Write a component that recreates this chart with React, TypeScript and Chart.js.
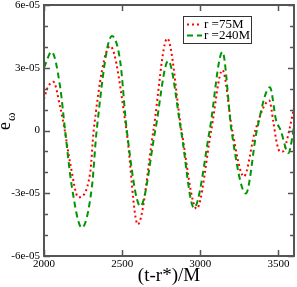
import React, { useEffect, useRef } from "react";
import { Chart, registerables } from "chart.js";

Chart.register(...registerables);

// ---- data ----
const r75X = [2000, 2020, 2060, 2103, 2133, 2167, 2220, 2296, 2318, 2424, 2528, 2600, 2700, 2789, 2880, 2977, 3070, 3142, 3205, 3279, 3352, 3442, 3468, 3490, 3510, 3530, 3550, 3575, 3600];
const r75Y = [1.5e-5, 2.0e-5, 2.33e-5, 1.14e-5, 0, -1.54e-5, -3.19e-5, -2.0e-5, 0, 4.03e-5, 0, -4.49e-5, 0, 4.4e-5, 0, -3.74e-5, 0, 2.89e-5, 0, -2.2e-5, 0, 1.43e-5, 0.4e-5, -0.6e-5, -1.0e-5, -1.0e-5, -0.6e-5, 0.2e-5, 1.1e-5];

const r240X = [2000, 2049, 2103, 2135, 2178, 2242, 2307, 2337, 2435, 2488, 2530, 2617, 2712, 2795, 2877, 2960, 3060, 3142, 3200, 3292, 3362, 3446, 3485, 3515, 3564, 3590, 3600];
const r240Y = [3.0e-5, 3.76e-5, 2.1e-5, 0, -2.67e-5, -4.65e-5, -2.67e-5, 0, 4.52e-5, 3.29e-5, 0, -3.62e-5, 0, 3.33e-5, 0, -3.7e-5, 0, 3.76e-5, 0, -3.01e-5, 0, 2.07e-5, 0.5e-5, 0, -1.08e-5, -0.3e-5, 0.2e-5];

const seriesNames = ["r =75M", "r =240M"];
const xTicks = [2000, 2500, 3000, 3500];
const xTickLabels = ["2000", "2500", "3000", "3500"];
const yTicks = [-6e-5, -3e-5, 0, 3e-5, 6e-5];
const yTickLabels = ["-6e-05", "-3e-05", "0", "3e-05", "6e-05"];
const yMinorTicks = [-5e-5, -4e-5, -2e-5, -1e-5, 1e-5, 2e-5, 4e-5, 5e-5];
const xTitle = "(t-r*)/M";
const yTitleMain = "e";
const yTitleSub = "ω";

const RED = "rgb(255,0,0)";
const GREEN = "rgb(0,150,0)";
const FRAME = "#555555";
const FONT = "'Liberation Serif', 'Times New Roman', serif";

const framePlugin = {
  id: "framePlugin",
  afterDatasetsDraw(chart: any) {
    const { ctx, chartArea: a, scales } = chart;
    const xs = scales.x;
    const ys = scales.y;
    ctx.save();
    ctx.strokeStyle = FRAME;
    ctx.lineWidth = 2;
    ctx.strokeRect(a.left, a.top, a.right - a.left, a.bottom - a.top);
    ctx.lineWidth = 1.5;
    ctx.beginPath();
    xTicks.forEach((v) => {
      const px = Math.round(xs.getPixelForValue(v)) + 0.5;
      ctx.moveTo(px, a.bottom);
      ctx.lineTo(px, a.bottom - 6);
      ctx.moveTo(px, a.top);
      ctx.lineTo(px, a.top + 6);
    });
    yTicks.forEach((v) => {
      const py = Math.round(ys.getPixelForValue(v)) + 0.5;
      ctx.moveTo(a.left, py);
      ctx.lineTo(a.left + 6, py);
      ctx.moveTo(a.right, py);
      ctx.lineTo(a.right - 6, py);
    });
    yMinorTicks.forEach((v) => {
      const py = Math.round(ys.getPixelForValue(v)) + 0.5;
      ctx.moveTo(a.left, py);
      ctx.lineTo(a.left + 4, py);
      ctx.moveTo(a.right, py);
      ctx.lineTo(a.right - 4, py);
    });
    ctx.stroke();

    // legend box
    const bx = 183, by = 16, bw = 68, bh = 27;
    ctx.fillStyle = "#ffffff";
    ctx.fillRect(bx, by, bw, bh);
    ctx.strokeStyle = "#333333";
    ctx.lineWidth = 1;
    ctx.strokeRect(bx + 0.5, by + 0.5, bw, bh);
    const rows = [
      { y: 24.5, color: RED, dash: [2, 3], label: seriesNames[0] },
      { y: 35.5, color: GREEN, dash: [6, 4], label: seriesNames[1] },
    ];
    rows.forEach((r) => {
      ctx.strokeStyle = r.color;
      ctx.lineWidth = 2;
      ctx.setLineDash(r.dash);
      ctx.beginPath();
      ctx.moveTo(187, r.y);
      ctx.lineTo(202, r.y);
      ctx.stroke();
      ctx.setLineDash([]);
      ctx.fillStyle = "#000";
      ctx.font = `13px ${FONT}`;
      ctx.textBaseline = "middle";
      ctx.textAlign = "left";
      ctx.fillText(r.label, 204, r.y);
    });

    // y title e_ω
    ctx.translate(9.5, 130);
    ctx.rotate(-Math.PI / 2);
    ctx.fillStyle = "#000";
    ctx.textBaseline = "alphabetic";
    ctx.font = `18px ${FONT}`;
    ctx.fillText(yTitleMain, 0, 0);
    const w = ctx.measureText(yTitleMain).width;
    ctx.font = `13px ${FONT}`;
    ctx.fillText(yTitleSub, w + 1, 5);
    ctx.restore();
  },
};

export default function App() {
  const ref = useRef<HTMLCanvasElement>(null);
  useEffect(() => {
    const canvas = ref.current!;
    const chart = new Chart(canvas, {
      type: "line",
      data: {
        datasets: [
          {
            label: seriesNames[0],
            data: r75X.map((x, i) => ({ x, y: r75Y[i] })),
            borderColor: RED,
            borderWidth: 2,
            borderDash: [2, 3],
            pointRadius: 0,
            cubicInterpolationMode: "monotone",
            fill: false,
            order: 1,
          },
          {
            label: seriesNames[1],
            data: r240X.map((x, i) => ({ x, y: r240Y[i] })),
            borderColor: GREEN,
            borderWidth: 2,
            borderDash: [6, 4],
            pointRadius: 0,
            cubicInterpolationMode: "monotone",
            fill: false,
            order: 0,
          },
        ],
      },
      options: {
        animation: false,
        responsive: false,
        devicePixelRatio: 1,
        layout: { padding: { top: 5, right: 3, left: 0, bottom: 0 } },
        plugins: { legend: { display: false }, tooltip: { enabled: false } },
        scales: {
          x: {
            type: "linear",
            min: 2000,
            max: 3600,
            grid: { display: false, drawTicks: false },
            border: { display: false },
            afterBuildTicks: (s: any) => {
              s.ticks = xTicks.map((v) => ({ value: v }));
            },
            afterFit: (s: any) => {
              s.height = 31;
              s.paddingLeft = 0;
              s.paddingRight = 0;
            },
            ticks: {
              maxRotation: 0,
              autoSkip: false,
              padding: 2,
              color: "#000",
              font: { family: FONT, size: 11 },
              callback: (v: any) => xTickLabels[xTicks.indexOf(Number(v))] ?? "",
            },
            title: {
              display: true,
              text: xTitle,
              color: "#000",
              font: { family: FONT, size: 19 },
              padding: { top: 0, bottom: 0 },
            },
          },
          y: {
            type: "linear",
            min: -6e-5,
            max: 6e-5,
            grid: { display: false, drawTicks: false },
            border: { display: false },
            afterBuildTicks: (s: any) => {
              s.ticks = yTicks.map((v) => ({ value: v }));
            },
            afterFit: (s: any) => {
              s.width = 44;
              s.paddingTop = 0;
              s.paddingBottom = 0;
            },
            ticks: {
              autoSkip: false,
              padding: 4,
              color: "#000",
              font: { family: FONT, size: 11 },
              callback: (v: any) => {
                const i = yTicks.findIndex((t) => Math.abs(t - Number(v)) < 1e-9);
                return i >= 0 ? yTickLabels[i] : "";
              },
            },
          },
        },
      },
      plugins: [framePlugin],
    });
    return () => chart.destroy();
  }, []);
  return (
    <div style={{ position: "absolute", left: 0, top: 0, width: 297, height: 287, background: "#fff" }}>
      <canvas ref={ref} width={297} height={287} style={{ display: "block" }} />
    </div>
  );
}
